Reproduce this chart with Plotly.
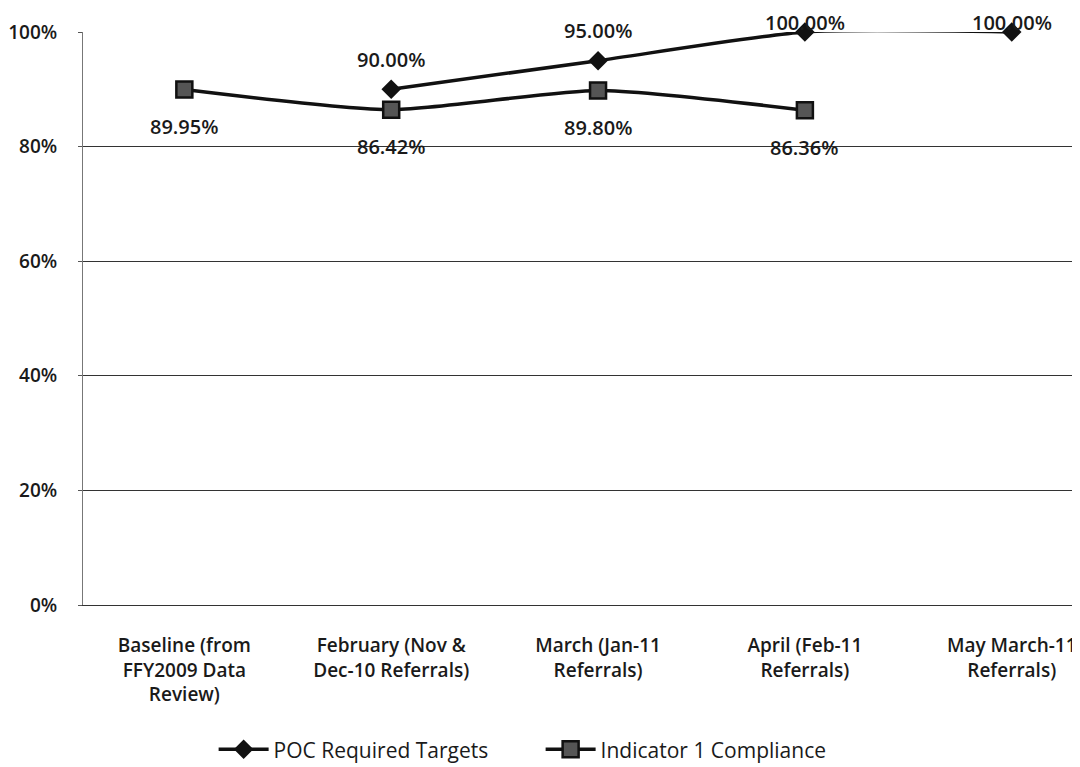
import plotly.graph_objects as go

categories = ["Baseline (from<br>FFY2009 Data<br>Review)",
              "February (Nov &<br>Dec-10 Referrals)",
              "March (Jan-11<br>Referrals)",
              "April (Feb-11<br>Referrals)",
              "May March-11<br>Referrals)"]
poc_targets = [None, 90.00, 95.00, 100.00, 100.00]
indicator1 = [89.95, 86.42, 89.80, 86.36, None]
y_ticks = [0, 20, 40, 60, 80, 100]
y_tick_labels = ["0%", "20%", "40%", "60%", "80%", "100%"]

xs = list(range(len(categories)))
font_family = "'Open Sans', Lato, sans-serif"
txt_color = "#1a1a1a"

fig = go.Figure()
fig.add_trace(go.Scatter(
    x=xs, y=poc_targets, name="POC Required Targets",
    mode="lines+markers",
    line=dict(color="#111111", width=3.5, shape="spline", smoothing=0.6),
    marker=dict(symbol="diamond", size=15, color="#111111"),
    cliponaxis=False,
))
fig.add_trace(go.Scatter(
    x=xs, y=indicator1, name="Indicator 1 Compliance",
    mode="lines+markers",
    line=dict(color="#111111", width=3.5, shape="spline", smoothing=0.6),
    marker=dict(symbol="square", size=16, color="#555555",
                line=dict(color="#111111", width=2.5)),
    cliponaxis=False,
))

label_font = dict(family=font_family, size=20, color=txt_color, weight=600)
for i, v in enumerate(poc_targets):
    if v is not None:
        shift = 10 if v >= 100 else 30
        fig.add_annotation(x=i, y=v, text=f"{v:.2f}%", showarrow=False,
                           yshift=shift, font=label_font)
for i, v in enumerate(indicator1):
    if v is not None:
        fig.add_annotation(x=i, y=v, text=f"{v:.2f}%", showarrow=False,
                           yshift=-37, font=label_font)

fig.update_layout(
    width=1080, height=767,
    margin=dict(l=75, r=8, t=24, b=170),
    paper_bgcolor="white", plot_bgcolor="white",
    font=dict(family=font_family, size=17, color=txt_color),
    showlegend=True,
    legend=dict(orientation="h", x=0.459, xanchor="center",
                yref="container", y=0.033, yanchor="middle",
                itemwidth=50, entrywidth=262, entrywidthmode="pixels",
                font=dict(family=font_family, size=21, color=txt_color)),
)
fig.update_xaxes(
    range=[-0.49, 4.33], tickmode="array", tickvals=xs, ticktext=categories,
    showgrid=False, showline=True, linecolor="#333333", linewidth=1,
    ticks="", zeroline=False, automargin=False, ticklabelstandoff=23,
    tickfont=dict(family=font_family, size=19, color=txt_color, weight=600),
)
fig.update_yaxes(
    range=[0, 100], tickmode="array", tickvals=y_ticks, ticktext=y_tick_labels,
    showgrid=True, gridcolor="#333333", gridwidth=1,
    showline=True, linecolor="#777777", linewidth=1,
    zeroline=False, ticks="outside", ticklen=4, tickcolor="#555555",
    automargin=False, ticklabelstandoff=17,
    tickfont=dict(family=font_family, size=19, color=txt_color, weight=600),
)
fig.write_html("out.html")
